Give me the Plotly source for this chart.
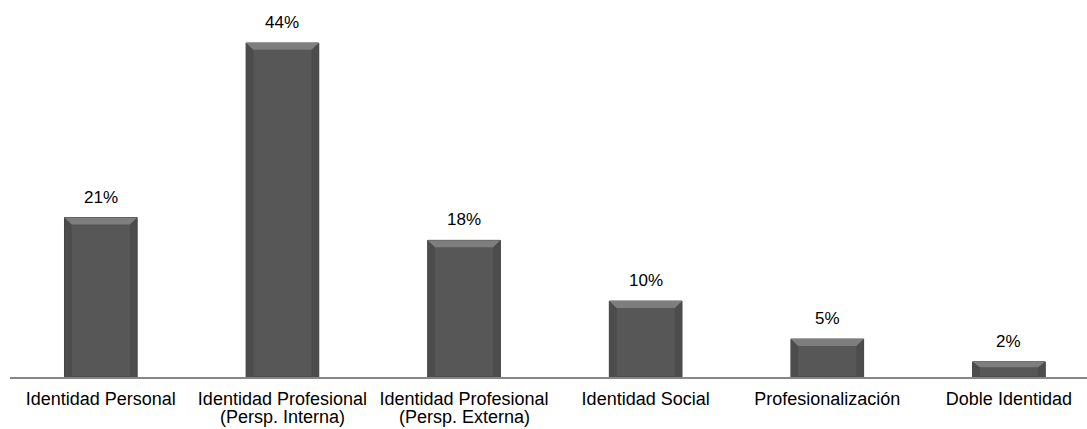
import plotly.graph_objects as go

categories = [
    "Identidad Personal",
    "Identidad Profesional\n(Persp. Interna)",
    "Identidad Profesional\n(Persp. Externa)",
    "Identidad Social",
    "Profesionalización",
    "Doble Identidad",
]
values = [21, 44, 18, 10, 5, 2]

FONT = "Liberation Sans, Arial"
BAR_W = 0.40
BEVEL_X = 0.04
BEVEL_Y = 0.9

xs = list(range(len(categories)))
first_lines = [c.split("\n")[0] for c in categories]
second_lines = [c.split("\n")[1] if "\n" in c else "" for c in categories]

fig = go.Figure()

# main bar bodies
fig.add_trace(go.Bar(
    x=xs, y=values, width=BAR_W,
    marker=dict(color="#575757", line=dict(color="#3e3e3e", width=1)),
    hoverinfo="skip", showlegend=False,
))

# bevel facets derived from each bar's value
top_x, top_y, side_x, side_y = [], [], [], []
for x, v in zip(xs, values):
    l, r = x - BAR_W / 2, x + BAR_W / 2
    d = min(BEVEL_Y, v * 0.35)
    top_x += [l, r, r - BEVEL_X, l + BEVEL_X, l, None]
    top_y += [v, v, v - d, v - d, v, None]
    side_x += [l, l + BEVEL_X, l + BEVEL_X, l, l, None]
    side_y += [v, v - d, 0, 0, v, None]
    side_x += [r, r - BEVEL_X, r - BEVEL_X, r, r, None]
    side_y += [v, v - d, 0, 0, v, None]

fig.add_trace(go.Scatter(
    x=side_x, y=side_y, fill="toself", mode="lines",
    fillcolor="#4c4c4c", line=dict(width=0),
    hoverinfo="skip", showlegend=False,
))
fig.add_trace(go.Scatter(
    x=top_x, y=top_y, fill="toself", mode="lines",
    fillcolor="#7e7e7e", line=dict(width=0),
    hoverinfo="skip", showlegend=False,
))

# value labels above bars
for x, v in zip(xs, values):
    fig.add_annotation(
        x=x, y=v, text=f"{v}%", showarrow=False,
        yanchor="bottom", yshift=9,
        font=dict(family=FONT, size=17, color="#000000"),
    )

# second line of the two-line category names, set tighter than <br> spacing
for x, t in zip(xs, second_lines):
    if t:
        fig.add_annotation(
            x=x, y=0, yref="paper", xref="x", text=t, showarrow=False,
            yanchor="top", yshift=-28,
            font=dict(family=FONT, size=18, color="#000000"),
        )

fig.update_layout(
    width=1087, height=429,
    margin=dict(l=10, r=0, t=20, b=52),
    plot_bgcolor="white", paper_bgcolor="white",
    font=dict(family=FONT, size=18, color="#000000"),
    xaxis=dict(
        tickmode="array", tickvals=xs, ticktext=first_lines,
        range=[-0.5, 5.43], showgrid=False, zeroline=False,
        showline=True, linecolor="#868686", linewidth=2,
        ticks="", ticklabelstandoff=4,
        tickfont=dict(family=FONT, size=18, color="#000000"),
    ),
    yaxis=dict(range=[0, 47.03], visible=False, showgrid=False, zeroline=False),
)

fig.write_html("out.html")
